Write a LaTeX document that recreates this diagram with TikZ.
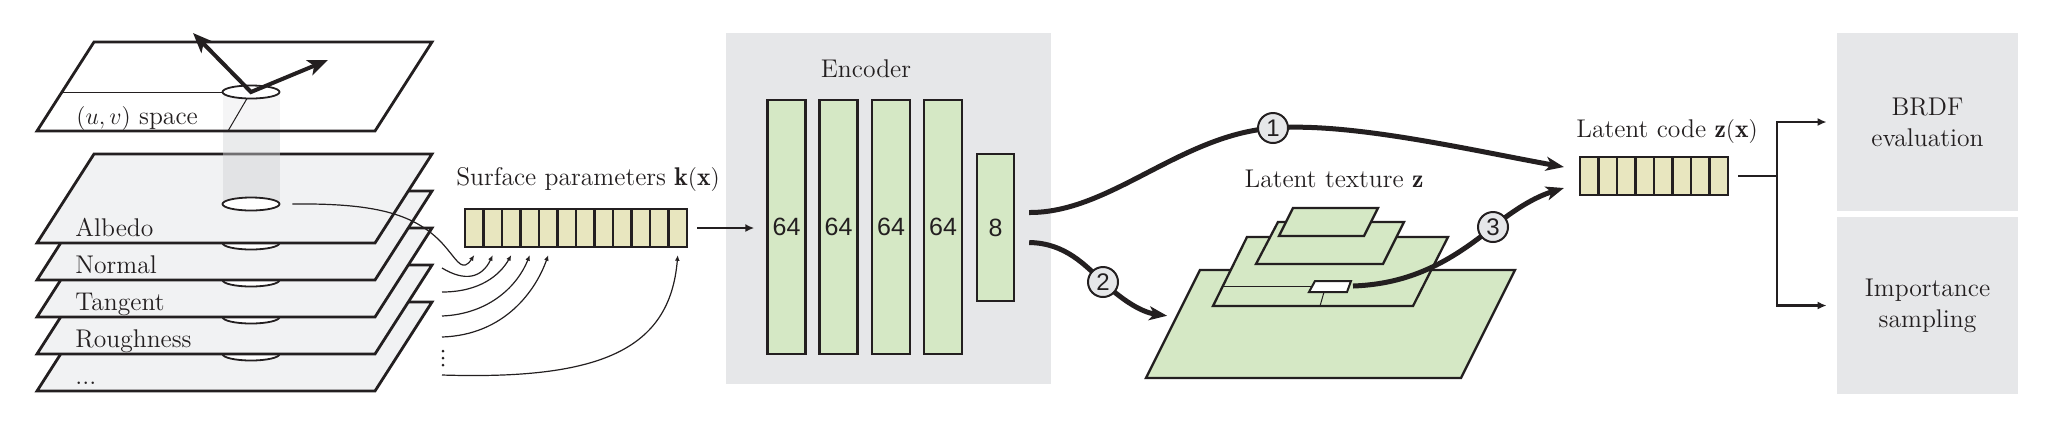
\documentclass[tikz,border=0pt]{standalone}
\usepackage{fontspec}
\newfontfamily\sansf{Liberation Sans}
\usetikzlibrary{arrows.meta,calc,shapes.geometric}
\definecolor{ink}{HTML}{231F20}
\definecolor{planegray}{HTML}{F1F2F3}
\definecolor{boxgray}{HTML}{E6E7E9}
\definecolor{leafgreen}{HTML}{D5E8C5}
\definecolor{khaki}{HTML}{E8E6BF}
\definecolor{cylgray}{HTML}{D0D2D4}
\tikzset{
  planeL/.style={fill=planegray, draw=ink, line width=1.4pt, line join=miter},
  holeE/.style={ellipse, draw=ink, fill=white, line width=0.9pt, minimum width=28.5pt, minimum height=6.5pt, inner sep=0pt},
  thinline/.style={draw=ink, line width=0.5pt},
  feed/.style={draw=ink, line width=0.6pt, -{Latex[length=2.8pt,width=2.4pt]}},
  cellk/.style={draw=ink, fill=khaki, line width=1.1pt, minimum width=9.25pt, minimum height=19pt, inner sep=0pt},
  layerbar/.style={draw=ink, fill=leafgreen, line width=1.2pt, minimum width=19pt, inner sep=0pt, font=\sansf\fontsize{12.5}{14}\selectfont},
  panel/.style={fill=boxgray, draw=none, inner sep=0pt},
  conn/.style={draw=ink, line width=1.1pt, -{Latex[length=4.5pt,width=4pt]}},
  thickcurve/.style={draw=ink, line width=2.5pt},
  tipS/.style={-{Stealth[length=9pt,width=7pt,inset=2.5pt]}},
  uvarrow/.style={draw=ink, line width=2pt, line join=miter, {Stealth[length=10pt,width=8pt,inset=2.5pt]}-{Stealth[length=10pt,width=8pt,inset=2.5pt]}},
  numc/.style={circle, draw=ink, fill=boxgray, line width=1pt, minimum size=15pt, inner sep=0pt, font=\sansf\fontsize{12}{12}\selectfont},
  texplane/.style={fill=leafgreen, draw=ink, line width=1.15pt, line join=miter},
  lbl/.style={anchor=base west, inner sep=0pt},
}
\begin{document}
\begin{tikzpicture}[x=0.5pt,y=-0.5pt, font=\fontsize{12.8}{15.5}\selectfont, text=ink]
\useasboundingbox (0,0) rectangle (2045,420);

% background panels
\node[panel, minimum width=162.5pt, minimum height=175.5pt] (enc) at (888.5,208.5) {};
\node[panel, minimum width=90.5pt, minimum height=89pt, align=center] (brdf) at (1927.5,122) {BRDF\\evaluation};
\node[panel, minimum width=90.5pt, minimum height=88.5pt, align=center] (imp) at (1927.5,305.5) {Importance\\sampling};

% stacked parameter planes (back to front)
\foreach \n/\t/\lab/\eyy in {4/302/{...}/354, 3/265/Roughness/317, 2/228/Tangent/280, 1/191/Normal/243} {
  \draw[planeL] (94,\t) -- (432,\t) -- (375,\t+89) -- (37,\t+89) -- cycle;
  \node[holeE] (h\n) at (251,\eyy) {};
  \node[lbl] (lab\n) at (75,\t+82) {\lab};
}
\draw[planeL] (94,154) -- (432,154) -- (375,243) -- (37,243) -- cycle;
\node[lbl] (lab0) at (75,236) {Albedo};

% cylinder
\fill[cylgray, fill opacity=0.45] (223,92) rectangle (280,204);
\node[holeE] (e0) at (251,204) {};

% uv plane
\fill[white, fill opacity=0.55] (94,42) -- (432,42) -- (375,131) -- (37,131) -- cycle;
\draw[planeL, fill=none] (94,42) -- (432,42) -- (375,131) -- (37,131) -- cycle;
\node[holeE] (etop) at (251,92) {};
\draw[thinline] (62,92) -- (etop.west);
\draw[thinline] (247,98.5) -- (228,131);
\node[lbl] (labuv) at (76,124) {$(u,v)$ space};
\coordinate (nrm) at (193,33);
\coordinate (tng) at (328,60);
\draw[uvarrow] (nrm) -- (etop.center) -- (tng);

% surface parameter vector
\node[anchor=base] (klab) at (588,185) {Surface parameters $\mathbf{k}(\mathbf{x})$};
\foreach \i in {1,...,12} \node[cellk] (k\i) at ({465+18.5*(\i-0.5)},228) {};

% feeds from planes to vector
\coordinate (s2) at (442,268);
\coordinate (s3) at (442,292);
\coordinate (s4) at (442,316);
\coordinate (s5) at (442,337);
\coordinate (s6) at (442,375);
\draw[feed] ($(e0.east)+(12,0)$) .. controls (380,203) and (420,215) .. (448,250) .. controls (458,262) and (463,272) .. ($(k1.south)+(0,7)$);
\draw[feed] (s2) .. controls (465,282) and (482,278) .. ($(k2.south)+(0,7)$);
\draw[feed] (s3) .. controls (480,292) and (500,275) .. ($(k3.south)+(0,7)$);
\draw[feed] (s4) .. controls (490,314) and (518,285) .. ($(k4.south)+(0,7)$);
\draw[feed] (s5) .. controls (505,335) and (536,290) .. ($(k5.south)+(0,7)$);
\draw[feed] (s6) .. controls (600,380) and (670,350) .. ($(k12.south)+(0,7)$);
\foreach \yy in {351,358,365} \fill[ink] (443,\yy) circle[radius=0.75pt];

% encoder
\node (enclab) at (866,69) {Encoder};
\foreach \i/\xx in {1/786.5,2/838.5,3/891,4/943}
  \node[layerbar, minimum height=127pt] (b\i) at (\xx,227) {64};
\node[layerbar, minimum width=18.5pt, minimum height=73.5pt] (b5) at (995.5,227.5) {8};
\draw[conn, shorten <=4.5pt, shorten >=6pt] (k12.east) -- (k12.east -| b1.west);

% latent texture pyramid
\node[anchor=base] (tlab) at (1334,187) {Latent texture $\mathbf{z}$};
\draw[texplane] (1200,270) -- (1515,270) -- (1461,378) -- (1146,378) -- cycle;
\draw[texplane] (1247,237) -- (1448,237) -- (1413,306) -- (1213,306) -- cycle;
\draw[texplane] (1278,222) -- (1404,222) -- (1383,264) -- (1256,264) -- cycle;
\draw[texplane] (1293,208) -- (1378,208) -- (1364,236) -- (1279,236) -- cycle;
\draw[thinline] (1223,286) -- (1312,286);
\draw[thinline] (1324,292) -- (1320,306);
\filldraw[fill=white, draw=ink, line width=1pt] (1315,281) -- (1351,281) -- (1347,292) -- (1309,292) -- cycle;
\coordinate (texel) at (1349,286);
\coordinate (ltex) at (1176,317);

% latent code
\node[anchor=base] (zlab) at (1667,137) {Latent code $\mathbf{z}(\mathbf{x})$};
\foreach \i in {1,...,8} \node[cellk] (z\i) at ({1580+18.5*(\i-0.5)},176) {};

% thick paths
\coordinate (o1) at ($(b5.east)+(14,-15)$);
\coordinate (o2) at ($(b5.east)+(14,15)$);
\coordinate (p1) at (1273,128);
\coordinate (p2) at (1103,282);
\coordinate (p3) at (1493,227);
\coordinate (t1) at ($(z1.west)+(-15,-9)$);
\coordinate (t3) at ($(z1.west)+(-15,12)$);
\draw[thickcurve] (o1) .. controls (1110,213) and (1180,135) .. (p1);
\draw[thickcurve, tipS] (p1) .. controls (1350,122) and (1470,150) .. (t1);
\draw[thickcurve] (o2) .. controls (1065,243) and (1085,265) .. (p2);
\draw[thickcurve, tipS, shorten >=4.5pt] (p2) .. controls (1120,298) and (1140,312) .. (ltex);
\draw[thickcurve] ($(texel)+(4,0)$) .. controls (1410,284) and (1450,262) .. (p3);
\draw[thickcurve, tipS] (p3) .. controls (1515,209) and (1535,197) .. (t3);
\node[numc] (c1) at (p1) {1};
\node[numc] (c2) at (p2) {2};
\node[numc] (c3) at (p3) {3};

% output split
\draw[draw=ink, line width=1.1pt] (z8.east) ++(9,0) -- ++(39,0) coordinate (split);
\draw[conn, shorten >=5pt] (split) |- (brdf.west);
\draw[conn, shorten >=5pt] (split) |- (imp.west);
\end{tikzpicture}
\end{document}
